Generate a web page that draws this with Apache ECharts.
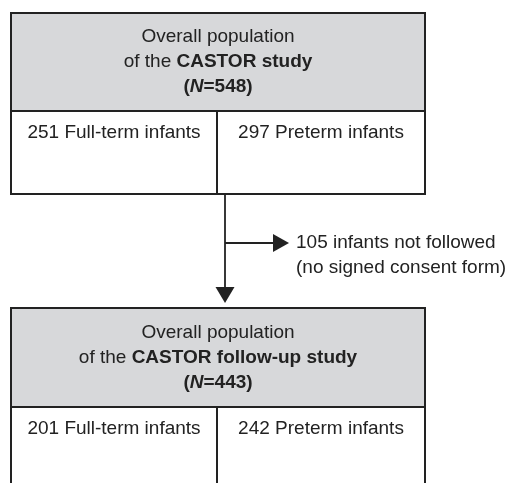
<!DOCTYPE html>
<html>
<head>
<meta charset="utf-8">
<style>
  html, body { margin: 0; padding: 0; background: #fff; }
  #chart { width: 509px; height: 483px; }
</style>
<script src="https://cdn.jsdelivr.net/npm/echarts@6/dist/echarts.min.js"></script>
</head>
<body>
<div id="chart"></div>
<script>
// flow chart data
const studies = ['CASTOR study', 'CASTOR follow-up study'];
const totals = [548, 443];
const fullTerm = [251, 201];
const preterm = [297, 242];
const notFollowed = [105];
const notFollowedReason = ['no signed consent form'];

// layout (pixel-like units on hidden axes)
const boxLeft = 11, boxRight = 425, boxMid = 217;
const boxTop = [13, 308];
const headBottom = [111, 407];
const boxBottom = [194, 492];
const stemX = 225;

const font = 'Liberation Sans, Arial, Helvetica, sans-serif';
const ink = '#222';
const grey = '#d7d8da';

const rich = {
  b: { fontWeight: 'bold', fontSize: 19, fontFamily: font, lineHeight: 25, fill: ink },
  bi: { fontWeight: 'bold', fontStyle: 'italic', fontSize: 19, fontFamily: font, lineHeight: 25, fill: ink }
};

function rect(api, x1, y1, x2, y2, fill) {
  const p1 = api.coord([x1, y1]);
  const p2 = api.coord([x2, y2]);
  return {
    type: 'rect',
    shape: { x: p1[0], y: p1[1], width: p2[0] - p1[0], height: p2[1] - p1[1] },
    style: { fill: fill, stroke: ink, lineWidth: 2 }
  };
}

function label(api, x, y, text, align) {
  const p = api.coord([x, y]);
  return {
    type: 'text',
    x: p[0], y: p[1],
    style: {
      text: text, rich: rich,
      fontSize: 19, fontFamily: font, lineHeight: 25,
      fill: ink, align: align || 'center', verticalAlign: 'middle'
    }
  };
}

function renderBox(params, api) {
  const i = params.dataIndex;
  const head = 'Overall population\nof the {b|' + studies[i] + '}\n{b|(}{bi|N}{b|=' + totals[i] + ')}';
  const cellY = headBottom[i] + 22;
  const d1 = api.coord([boxMid, headBottom[i]]);
  const d2 = api.coord([boxMid, boxBottom[i]]);
  return {
    type: 'group',
    children: [
      rect(api, boxLeft, headBottom[i], boxRight, boxBottom[i], '#fff'),
      rect(api, boxLeft, boxTop[i], boxRight, headBottom[i], grey),
      { type: 'line', shape: { x1: d1[0], y1: d1[1], x2: d2[0], y2: d2[1] }, style: { stroke: ink, lineWidth: 2 } },
      label(api, (boxLeft + boxRight) / 2, (boxTop[i] + headBottom[i]) / 2, head),
      label(api, (boxLeft + boxMid) / 2, cellY, fullTerm[i] + ' Full-term infants'),
      label(api, (boxMid + boxRight) / 2, cellY, preterm[i] + ' Preterm infants')
    ]
  };
}

function renderFlow(params, api) {
  const branchY = 243;
  const s1 = api.coord([stemX, boxBottom[0]]);
  const s2 = api.coord([stemX, boxTop[1] - 8]);
  const b1 = api.coord([stemX, branchY]);
  const b2 = api.coord([276, branchY]);
  const downTip = api.coord([stemX, boxTop[1] - 5]);
  const rightTip = api.coord([289, branchY]);
  return {
    type: 'group',
    children: [
      { type: 'line', shape: { x1: s1[0], y1: s1[1], x2: s2[0], y2: s2[1] }, style: { stroke: ink, lineWidth: 1.8 } },
      { type: 'line', shape: { x1: b1[0], y1: b1[1], x2: b2[0], y2: b2[1] }, style: { stroke: ink, lineWidth: 1.8 } },
      { type: 'polygon', shape: { points: [[downTip[0] - 9.5, downTip[1] - 16], [downTip[0] + 9.5, downTip[1] - 16], downTip] }, style: { fill: ink } },
      { type: 'polygon', shape: { points: [[rightTip[0] - 16, rightTip[1] - 9], [rightTip[0] - 16, rightTip[1] + 9], rightTip] }, style: { fill: ink } },
      label(api, 296, branchY + 12, notFollowed[0] + ' infants not followed\n(' + notFollowedReason[0] + ')', 'left')
    ]
  };
}

const chart = echarts.init(document.getElementById('chart'));
chart.setOption({
  animation: false,
  grid: { left: 0, right: 0, top: 0, bottom: 0 },
  xAxis: { type: 'value', min: 0, max: 509, show: false },
  yAxis: { type: 'value', min: 0, max: 483, inverse: true, show: false },
  series: [
    {
      type: 'custom',
      renderItem: renderBox,
      data: studies.map((s, i) => [i]),
      clip: false
    },
    {
      type: 'custom',
      renderItem: renderFlow,
      data: notFollowed.map((n, i) => [i]),
      clip: false
    }
  ]
});
</script>
</body>
</html>
